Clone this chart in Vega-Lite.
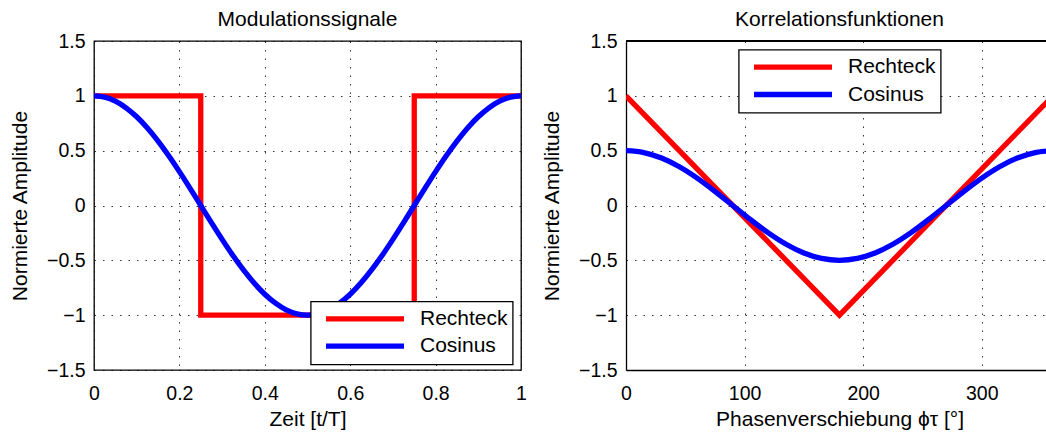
{
  "$schema": "https://vega.github.io/schema/vega-lite/v6.json",
  "padding": {"left": 8, "top": 8, "right": 0, "bottom": 0},
  "spacing": 8,
  "datasets": {
    "mod": [
      {"t": 0, "y": 1, "Signal": "Rechteck"},
      {"t": 0.25, "y": 1, "Signal": "Rechteck"},
      {"t": 0.25, "y": -1, "Signal": "Rechteck"},
      {"t": 0.75, "y": -1, "Signal": "Rechteck"},
      {"t": 0.75, "y": 1, "Signal": "Rechteck"},
      {"t": 1, "y": 1, "Signal": "Rechteck"},
      {"t": 0, "y": 1, "Signal": "Cosinus"},
      {"t": 0.025, "y": 0.9877, "Signal": "Cosinus"},
      {"t": 0.05, "y": 0.9511, "Signal": "Cosinus"},
      {"t": 0.075, "y": 0.891, "Signal": "Cosinus"},
      {"t": 0.1, "y": 0.809, "Signal": "Cosinus"},
      {"t": 0.125, "y": 0.7071, "Signal": "Cosinus"},
      {"t": 0.15, "y": 0.5878, "Signal": "Cosinus"},
      {"t": 0.175, "y": 0.454, "Signal": "Cosinus"},
      {"t": 0.2, "y": 0.309, "Signal": "Cosinus"},
      {"t": 0.225, "y": 0.1564, "Signal": "Cosinus"},
      {"t": 0.25, "y": 0, "Signal": "Cosinus"},
      {"t": 0.275, "y": -0.1564, "Signal": "Cosinus"},
      {"t": 0.3, "y": -0.309, "Signal": "Cosinus"},
      {"t": 0.325, "y": -0.454, "Signal": "Cosinus"},
      {"t": 0.35, "y": -0.5878, "Signal": "Cosinus"},
      {"t": 0.375, "y": -0.7071, "Signal": "Cosinus"},
      {"t": 0.4, "y": -0.809, "Signal": "Cosinus"},
      {"t": 0.425, "y": -0.891, "Signal": "Cosinus"},
      {"t": 0.45, "y": -0.9511, "Signal": "Cosinus"},
      {"t": 0.475, "y": -0.9877, "Signal": "Cosinus"},
      {"t": 0.5, "y": -1, "Signal": "Cosinus"},
      {"t": 0.525, "y": -0.9877, "Signal": "Cosinus"},
      {"t": 0.55, "y": -0.9511, "Signal": "Cosinus"},
      {"t": 0.575, "y": -0.891, "Signal": "Cosinus"},
      {"t": 0.6, "y": -0.809, "Signal": "Cosinus"},
      {"t": 0.625, "y": -0.7071, "Signal": "Cosinus"},
      {"t": 0.65, "y": -0.5878, "Signal": "Cosinus"},
      {"t": 0.675, "y": -0.454, "Signal": "Cosinus"},
      {"t": 0.7, "y": -0.309, "Signal": "Cosinus"},
      {"t": 0.725, "y": -0.1564, "Signal": "Cosinus"},
      {"t": 0.75, "y": 0, "Signal": "Cosinus"},
      {"t": 0.775, "y": 0.1564, "Signal": "Cosinus"},
      {"t": 0.8, "y": 0.309, "Signal": "Cosinus"},
      {"t": 0.825, "y": 0.454, "Signal": "Cosinus"},
      {"t": 0.85, "y": 0.5878, "Signal": "Cosinus"},
      {"t": 0.875, "y": 0.7071, "Signal": "Cosinus"},
      {"t": 0.9, "y": 0.809, "Signal": "Cosinus"},
      {"t": 0.925, "y": 0.891, "Signal": "Cosinus"},
      {"t": 0.95, "y": 0.9511, "Signal": "Cosinus"},
      {"t": 0.975, "y": 0.9877, "Signal": "Cosinus"},
      {"t": 1, "y": 1, "Signal": "Cosinus"}
    ],
    "korr": [
      {"phi": 0, "y": 1, "Signal": "Rechteck"},
      {"phi": 180, "y": -1, "Signal": "Rechteck"},
      {"phi": 360, "y": 1, "Signal": "Rechteck"},
      {"phi": 0, "y": 0.5, "Signal": "Cosinus"},
      {"phi": 15, "y": 0.483, "Signal": "Cosinus"},
      {"phi": 30, "y": 0.433, "Signal": "Cosinus"},
      {"phi": 45, "y": 0.3536, "Signal": "Cosinus"},
      {"phi": 60, "y": 0.25, "Signal": "Cosinus"},
      {"phi": 75, "y": 0.1294, "Signal": "Cosinus"},
      {"phi": 90, "y": 0, "Signal": "Cosinus"},
      {"phi": 105, "y": -0.1294, "Signal": "Cosinus"},
      {"phi": 120, "y": -0.25, "Signal": "Cosinus"},
      {"phi": 135, "y": -0.3536, "Signal": "Cosinus"},
      {"phi": 150, "y": -0.433, "Signal": "Cosinus"},
      {"phi": 165, "y": -0.483, "Signal": "Cosinus"},
      {"phi": 180, "y": -0.5, "Signal": "Cosinus"},
      {"phi": 195, "y": -0.483, "Signal": "Cosinus"},
      {"phi": 210, "y": -0.433, "Signal": "Cosinus"},
      {"phi": 225, "y": -0.3536, "Signal": "Cosinus"},
      {"phi": 240, "y": -0.25, "Signal": "Cosinus"},
      {"phi": 255, "y": -0.1294, "Signal": "Cosinus"},
      {"phi": 270, "y": 0, "Signal": "Cosinus"},
      {"phi": 285, "y": 0.1294, "Signal": "Cosinus"},
      {"phi": 300, "y": 0.25, "Signal": "Cosinus"},
      {"phi": 315, "y": 0.3536, "Signal": "Cosinus"},
      {"phi": 330, "y": 0.433, "Signal": "Cosinus"},
      {"phi": 345, "y": 0.483, "Signal": "Cosinus"},
      {"phi": 360, "y": 0.5, "Signal": "Cosinus"}
    ]
  },
  "hconcat": [
    {
      "title": {"text": "Modulationssignale", "offset": 1},
      "width": 427,
      "height": 329,
      "data": {"name": "mod"},
      "encoding": {
        "x": {"field": "t", "type": "quantitative", "title": "Zeit [t/T]",
          "scale": {"domain": [0, 1], "nice": false, "zero": false},
          "axis": {"values": [0, 0.2, 0.4, 0.6, 0.8, 1], "format": "~g", "labelFlush": false, "labelPadding": 14, "titlePadding": 6}},
        "y": {"field": "y", "type": "quantitative", "title": "Normierte Amplitude",
          "scale": {"domain": [-1.5, 1.5], "nice": false, "zero": false},
          "axis": {"values": [-1.5, -1, -0.5, 0, 0.5, 1, 1.5], "format": "~g", "titlePadding": 16}},
        "color": {"field": "Signal", "type": "nominal",
          "scale": {"domain": ["Rechteck", "Cosinus"], "range": ["#ff0000", "#0000ff"]},
          "legend": {"legendX": 216.7, "legendY": 260.4}}
      },
      "layer": [
        {"transform": [{"filter": "datum.Signal === 'Rechteck'"}],
         "mark": {"type": "line", "strokeWidth": 5.3, "strokeJoin": "miter", "strokeCap": "butt"}},
        {"transform": [{"filter": "datum.Signal === 'Cosinus'"}],
         "mark": {"type": "line", "strokeWidth": 5.3, "interpolate": "monotone", "strokeCap": "butt"}}
      ]
    },
    {
      "title": {"text": "Korrelationsfunktionen", "offset": 1, "dx": 3},
      "width": 421,
      "height": 329,
      "view": {"stroke": null},
      "data": {"name": "korr"},
      "layer": [
        {"mark": {"type": "rule", "color": "#000", "strokeWidth": 1.3},
         "encoding": {
           "y": {"datum": 1.5, "type": "quantitative",
             "scale": {"domain": [-1.5, 1.5], "nice": false, "zero": false},
             "title": "Normierte Amplitude",
             "axis": {"values": [-1.5, -1, -0.5, 0, 0.5, 1, 1.5], "format": "~g", "titlePadding": 16, "domain": true}}
         }},
        {"transform": [{"filter": "datum.Signal === 'Rechteck'"}],
         "mark": {"type": "line", "strokeWidth": 5.3, "strokeJoin": "miter", "strokeCap": "butt", "clip": true},
         "encoding": {
           "x": {"field": "phi", "type": "quantitative", "title": "Phasenverschiebung ϕτ [°]",
             "scale": {"domain": [0, 355], "nice": false, "zero": false},
             "axis": {"values": [0, 100, 200, 300], "format": "d", "labelFlush": false, "labelPadding": 14, "titlePadding": 6, "domain": true, "titleX": 213.5}},
           "y": {"field": "y", "type": "quantitative", "title": "Normierte Amplitude"},
           "color": {"field": "Signal", "type": "nominal",
             "scale": {"domain": ["Rechteck", "Cosinus"], "range": ["#ff0000", "#0000ff"]},
             "legend": {"legendX": 112.7, "legendY": 8.7}}
         }},
        {"transform": [{"filter": "datum.Signal === 'Cosinus'"}],
         "mark": {"type": "line", "strokeWidth": 5.3, "interpolate": "monotone", "strokeCap": "butt", "clip": true},
         "encoding": {
           "x": {"field": "phi", "type": "quantitative", "title": "Phasenverschiebung ϕτ [°]"},
           "y": {"field": "y", "type": "quantitative", "title": "Normierte Amplitude"},
           "color": {"field": "Signal", "type": "nominal"}
         }}
      ]
    }
  ],
  "resolve": {"scale": {"color": "independent"}, "legend": {"color": "independent"}},
  "config": {
    "font": "Liberation Sans",
    "background": "#ffffff",
    "view": {"stroke": "#000", "strokeWidth": 1.3},
    "title": {"fontSize": 21, "fontWeight": "normal", "color": "#000", "font": "Liberation Sans"},
    "axis": {
      "labelFont": "Liberation Sans", "labelFontSize": 19.5, "labelColor": "#000", "labelPadding": 9,
      "titleFont": "Liberation Sans", "titleFontSize": 21, "titleFontWeight": "normal", "titleColor": "#000",
      "ticks": false, "domain": false, "domainColor": "#000", "domainWidth": 1.3,
      "grid": true, "gridColor": "#000", "gridDash": [1.5, 7], "gridOpacity": 0.8, "gridWidth": 1,
      "labelOverlap": false
    },
    "legend": {
      "orient": "none", "title": null,
      "symbolType": "stroke", "symbolSize": 6084, "symbolStrokeWidth": 5.3,
      "clipHeight": 25, "rowPadding": 2.3, "padding": 5,
      "symbolOffset": 7.3, "labelOffset": 13,
      "labelFont": "Liberation Sans", "labelFontSize": 21, "labelColor": "#000",
      "strokeColor": "#000", "strokeWidth": 1.3, "fillColor": "#ffffff", "cornerRadius": 0
    }
  }
}
